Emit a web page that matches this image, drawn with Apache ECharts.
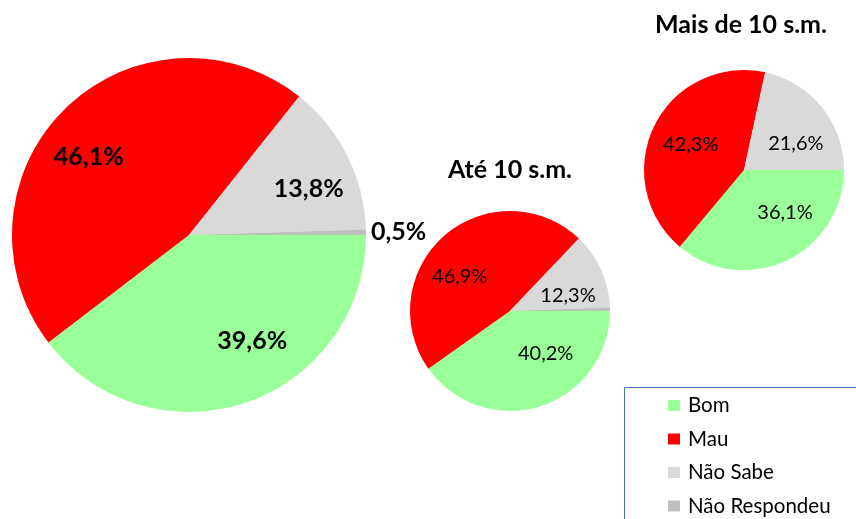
<!DOCTYPE html>
<html><head><meta charset="utf-8">
<script src="https://cdn.jsdelivr.net/npm/echarts@6/dist/echarts.min.js"></script>
<style>html,body{margin:0;padding:0;background:#fff}#c{width:856px;height:519px}</style>
</head><body><div id="c"></div>
<script>
const categories = ['Bom', 'Mau', 'Não Sabe', 'Não Respondeu'];
const totalValues = [39.6, 46.1, 13.8, 0.5];
const ate10Values = [40.2, 46.9, 12.3, 0.6];
const mais10Values = [36.1, 42.3, 21.6, 0.0];
const titleTexts = ['Até 10 s.m.', 'Mais de 10 s.m.'];
const colors = ['#99FF99', '#FF0000', '#D9D9D9', '#BFBFBF'];

function fmt(v) { return v.toFixed(1).replace('.', ',') + '%'; }

// label placement tweaks (pixels) to mimic the original's "best fit" label spots
const nudgeTotal = [[21, -19], [-8, 16], [2, 13], [0, 0]];
const nudgeAte = [[17, -16], [-10, 12], [2, 10], [0, 0]];
const nudgeMais = [[15, -13], [2, 2], [4, 12], [0, 0]];

const pies = [
  { values: totalValues, nudge: nudgeTotal, center: [189, 235], radius: 177, k: 1.44, big: true },
  { values: ate10Values, nudge: nudgeAte, center: [510, 311], radius: 100, k: 1.16, big: false },
  { values: mais10Values, nudge: nudgeMais, center: [744, 170], radius: 100, k: 1.16, big: false }
];

const chart = echarts.init(document.getElementById('c'), null, { renderer: 'canvas' });
const titleStyle = { fontFamily: 'Lato', fontWeight: 'bold', fontSize: 25, color: '#000' };

chart.setOption({
  animation: false,
  backgroundColor: '#fff',
  title: [
    { text: titleTexts[0], left: 510, top: 157, textAlign: 'center', padding: 0, textStyle: titleStyle },
    { text: titleTexts[1], left: 741, top: 12, textAlign: 'center', padding: 0, textStyle: titleStyle }
  ],
  graphic: [{
    type: 'rect', left: 622, top: 385, silent: true,
    shape: { width: 300, height: 200 },
    style: { fill: 'none', stroke: '#4472C4', lineWidth: 1 }
  }],
  legend: {
    orient: 'vertical', left: 668, top: 395, height: 200, data: categories, icon: 'rect',
    itemWidth: 12, itemHeight: 11, itemGap: 12.5, selectedMode: false, padding: 0,
    textStyle: { fontFamily: 'Lato', fontSize: 20.5, color: '#000', padding: [0, 0, 0, 3] }
  },
  series: pies.map(function (p) {
    return {
      type: 'pie', center: p.center, radius: p.radius, startAngle: 0, clockwise: true,
      avoidLabelOverlap: false, silent: true,
      itemStyle: { borderWidth: 0 },
      label: {
        show: true, position: 'inside', color: '#000', fontFamily: 'Lato',
        fontSize: p.big ? 25 : 20, fontWeight: p.big ? 'bold' : 'normal',
        formatter: function (params) { return fmt(params.value); }
      },
      labelLine: { show: false, length: 0, length2: 0 },
      labelLayout: function (params) {
        if (params.dataIndex === 3) return {};
        const r = params.labelRect;
        const lx = r.x + r.width / 2, ly = r.y + r.height / 2;
        const n = p.nudge[params.dataIndex];
        return { dx: (lx - p.center[0]) * (p.k - 1) + n[0], dy: (ly - p.center[1]) * (p.k - 1) + n[1] };
      },
      data: categories.map(function (c, i) {
        const item = { name: c, value: p.values[i], itemStyle: { color: colors[i] } };
        if (i === 3) {
          item.label = p.big ? { position: 'outside', show: true } : { show: false };
        }
        return item;
      })
    };
  })
});
</script>
</body></html>
